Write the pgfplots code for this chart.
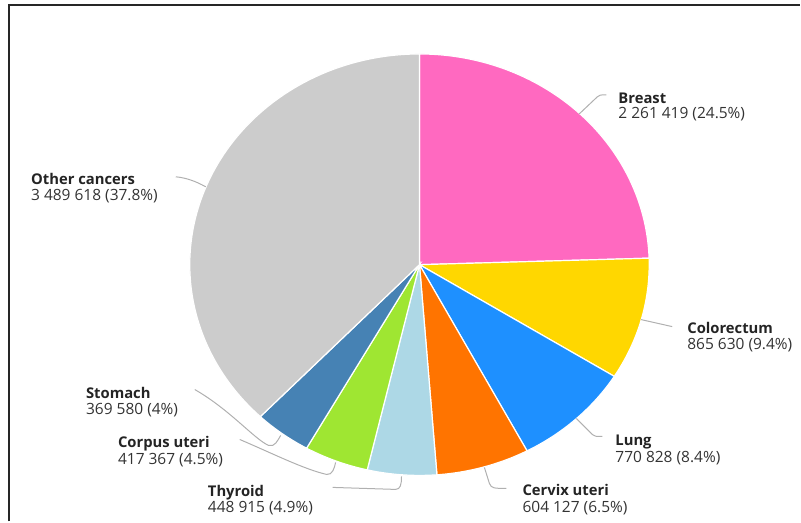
\documentclass[border=0pt]{standalone}
\usepackage{pgfplots}
\pgfplotsset{compat=1.18}
\usepackage{fontspec}
\setmainfont{Open Sans}
\definecolor{cBreast}{HTML}{FF69C0}
\definecolor{cColo}{HTML}{FFD700}
\definecolor{cLung}{HTML}{1E90FF}
\definecolor{cCervix}{HTML}{FF7400}
\definecolor{cThyroid}{HTML}{ADD8E6}
\definecolor{cCorpus}{HTML}{9FE632}
\definecolor{cStomach}{HTML}{4682B4}
\definecolor{cOther}{HTML}{CCCCCC}
\definecolor{leader}{HTML}{B0B0B0}
\definecolor{txt}{HTML}{333333}
\begin{document}%
\begin{tikzpicture}[x=1pt,y=-1pt]
% values in thousands (Breast, Colorectum, Lung, Cervix uteri, Thyroid, Corpus uteri, Stomach, Other cancers)
\pgfmathsetmacro{\vA}{2261.419}
\pgfmathsetmacro{\vB}{865.630}
\pgfmathsetmacro{\vC}{770.828}
\pgfmathsetmacro{\vD}{604.127}
\pgfmathsetmacro{\vE}{448.915}
\pgfmathsetmacro{\vF}{417.367}
\pgfmathsetmacro{\vG}{369.580}
\pgfmathsetmacro{\vH}{3489.618}
\pgfmathsetmacro{\tot}{\vA+\vB+\vC+\vD+\vE+\vF+\vG+\vH}
\pgfmathsetmacro{\aA}{0}
\pgfmathsetmacro{\aB}{\aA+\vA/\tot*360}
\pgfmathsetmacro{\aC}{\aB+\vB/\tot*360}
\pgfmathsetmacro{\aD}{\aC+\vC/\tot*360}
\pgfmathsetmacro{\aE}{\aD+\vD/\tot*360}
\pgfmathsetmacro{\aF}{\aE+\vE/\tot*360}
\pgfmathsetmacro{\aG}{\aF+\vF/\tot*360}
\pgfmathsetmacro{\aH}{\aG+\vG/\tot*360}
\pgfmathsetmacro{\aI}{360}
\path (0,0) rectangle (801,522);
\begin{axis}[at={(190pt,-476pt)}, anchor=south west, scale only axis,
  width=460pt, height=422pt, hide axis,
  xmin=-1, xmax=1, ymin=-1, ymax=1, clip=false]
\addplot[fill=cBreast, draw=white, line width=1.2pt, domain=\aA:\aB, samples=90] ({sin(x)},{cos(x)}) -- (axis cs:0,0) -- cycle;
\addplot[fill=cColo, draw=white, line width=1.2pt, domain=\aB:\aC, samples=40] ({sin(x)},{cos(x)}) -- (axis cs:0,0) -- cycle;
\addplot[fill=cLung, draw=white, line width=1.2pt, domain=\aC:\aD, samples=40] ({sin(x)},{cos(x)}) -- (axis cs:0,0) -- cycle;
\addplot[fill=cCervix, draw=white, line width=1.2pt, domain=\aD:\aE, samples=30] ({sin(x)},{cos(x)}) -- (axis cs:0,0) -- cycle;
\addplot[fill=cThyroid, draw=white, line width=1.2pt, domain=\aE:\aF, samples=30] ({sin(x)},{cos(x)}) -- (axis cs:0,0) -- cycle;
\addplot[fill=cCorpus, draw=white, line width=1.2pt, domain=\aF:\aG, samples=30] ({sin(x)},{cos(x)}) -- (axis cs:0,0) -- cycle;
\addplot[fill=cStomach, draw=white, line width=1.2pt, domain=\aG:\aH, samples=30] ({sin(x)},{cos(x)}) -- (axis cs:0,0) -- cycle;
\addplot[fill=cOther, draw=white, line width=1.2pt, domain=\aH:\aI, samples=120] ({sin(x)},{cos(x)}) -- (axis cs:0,0) -- cycle;
\end{axis}
% frame
\draw[line width=2pt, black!85] (9.3,522) -- (9.3,5.3) -- (801,5.3);
% leader lines
\begin{scope}[leader, line width=1pt]
\draw (580,114) -- (598,97) .. controls (600,95) and (601,95) .. (607,95);
\draw (206,187) .. controls (195,181) and (186,178) .. (176,177);
\draw (642,320) -- (673,327);
\draw (577,419) -- (593,435) .. controls (595,437) and (597,437) .. (603,437);
\draw (485,468) -- (490,484) .. controls (492,489) and (495,489) .. (507,489);
\draw (333,488) -- (396,490) .. controls (401,490) and (402,485) .. (402,477);
\draw (240,440) .. controls (275,455) and (305,470) .. (327,475) .. controls (333,476) and (335,468) .. (336,463);
\draw (195,390) .. controls (230,410) and (255,440) .. (269,446) .. controls (275,448) and (278,441) .. (281,436);
\end{scope}
% labels
\tikzset{nm/.style={anchor=base west, inner sep=0pt, text=txt!70!black, font=\bfseries\fontsize{14.8}{17}\selectfont},
         vl/.style={anchor=base west, inner sep=0pt, text=txt, font=\fontsize{15.5}{17}\selectfont}}
\node[nm] at (619,103.5) {Breast};
\node[vl] at (619,118.5) {2 261 419 (24.5\%)};
\node[nm] at (31,185) {Other cancers};
\node[vl] at (31,201) {3 489 618 (37.8\%)};
\node[nm] at (688,334) {Colorectum};
\node[vl] at (688,350) {865 630 (9.4\%)};
\node[nm] at (616,446) {Lung};
\node[vl] at (616,463) {770 828 (8.4\%)};
\node[nm] at (523,496.5) {Cervix uteri};
\node[vl] at (523,513) {604 127 (6.5\%)};
\node[nm] at (86,398.5) {Stomach};
\node[vl] at (86,415) {369 580 (4\%)};
\node[nm] at (118,448) {Corpus uteri};
\node[vl] at (118,465) {417 367 (4.5\%)};
\node[nm] at (208,497) {Thyroid};
\node[vl] at (208,513) {448 915 (4.9\%)};
\end{tikzpicture}%
\end{document}
